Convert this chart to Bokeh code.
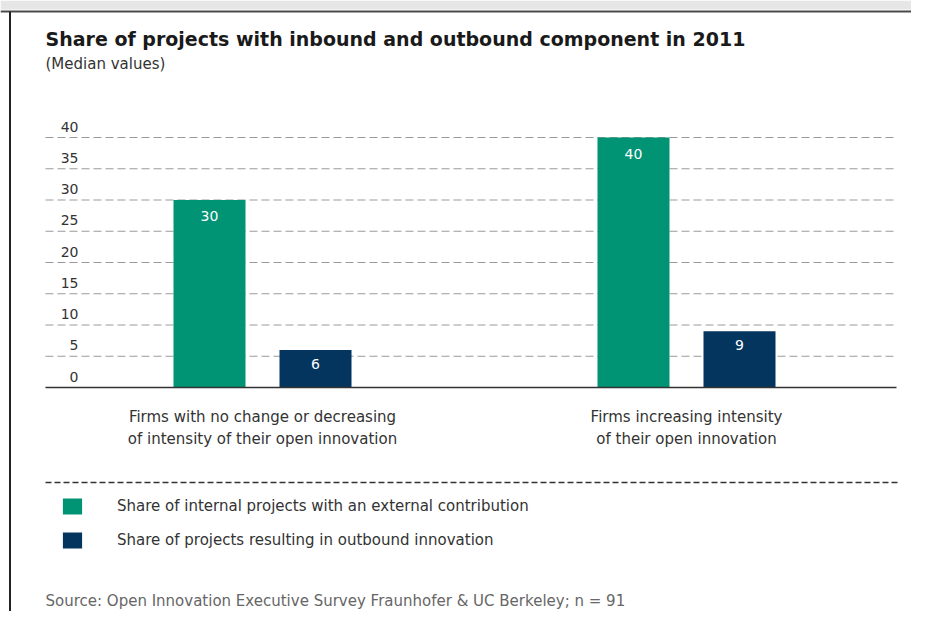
from bokeh.plotting import figure
from bokeh.models import Range1d, ColumnDataSource, Legend, LegendItem
from bokeh.transform import dodge
from bokeh.core.properties import value
from bokeh.embed import file_html
from bokeh.resources import INLINE

# ---------------- data ----------------
title = "Share of projects with inbound and outbound component in 2011"
subtitle = "(Median values)"
categories = [
    "Firms with no change or decreasing\nof intensity of their open innovation",
    "Firms increasing intensity\nof their open innovation",
]
series_names = [
    "Share of internal projects with an external contribution",
    "Share of projects resulting in outbound innovation",
]
inbound = [30, 40]
outbound = [6, 9]
y_ticks = [0, 5, 10, 15, 20, 25, 30, 35, 40]
source_note = "Source: Open Innovation Executive Survey Fraunhofer & UC Berkeley; n = 91"

GREEN = "#009474"
NAVY = "#03355f"
FONT_NAME = "DejaVu Sans"
FONT = value(FONT_NAME)

# ---------------- layout helpers (pixel -> data) ----------------
W, H = 911, 611
PX_X = 424.0   # pixels per category step
PX_Y = 6.25    # pixels per value unit


def fx(px):
    return 1 + (px - 262) / PX_X


def fy(py):
    return (387 - py) / PX_Y


p = figure(width=W, height=H, output_backend="svg", toolbar_location=None,
           x_range=Range1d(fx(0), fx(W)), y_range=Range1d(fy(H), fy(0)),
           x_axis_type=None, y_axis_type=None, min_border=0,
           outline_line_color=None, background_fill_color="white",
           border_fill_color="white")

pos = list(range(1, len(categories) + 1))
src = ColumnDataSource(dict(
    pos=pos,
    inbound=inbound,
    outbound=outbound,
    inbound_lbl=[str(v) for v in inbound],
    outbound_lbl=[str(v) for v in outbound],
))

# frame lines (top rule, left border)
p.quad(left=[fx(0)], right=[fx(W)], top=[fy(0)], bottom=[fy(9)], fill_color="#e6e6e6", line_color=None)
p.segment(x0=[fx(0)], x1=[fx(W)], y0=[fy(11)], y1=[fy(11)], line_color="#4a4a4a", line_width=2)
p.segment(x0=[fx(9.5)], x1=[fx(9.5)], y0=[fy(11)], y1=[fy(H)], line_color="#222222", line_width=2)

# gridlines
grid_ticks = [t for t in y_ticks if t > 0]
p.segment(x0=[fx(45)] * len(grid_ticks), x1=[fx(896)] * len(grid_ticks),
          y0=grid_ticks, y1=grid_ticks, line_color="#9a9a9a", line_width=1,
          line_dash="8 4")

# tick labels (sit above their gridline)
p.text(x=[fx(78)] * len(y_ticks), y=y_ticks, text=[str(t) for t in y_ticks],
       text_align="right", text_baseline="middle", y_offset=-11,
       text_font=FONT, text_font_size="14px", text_color="#333333")

# bars
off = 53 / PX_X
bw = 72 / PX_X
r1 = p.vbar(x=dodge("pos", -off, range=p.x_range), top="inbound", bottom=0, width=bw,
            source=src, fill_color=GREEN, line_color=None)
r2 = p.vbar(x=dodge("pos", off, range=p.x_range), top="outbound", bottom=0, width=bw,
            source=src, fill_color=NAVY, line_color=None)

p.text(x=dodge("pos", -off, range=p.x_range), y="inbound", text="inbound_lbl", source=src,
       text_align="center", text_baseline="middle", y_offset=16,
       text_font=FONT, text_font_size="14px", text_color="white")
p.text(x=dodge("pos", off, range=p.x_range), y="outbound", text="outbound_lbl", source=src,
       text_align="center", text_baseline="middle", y_offset=14,
       text_font=FONT, text_font_size="14px", text_color="white")

# baseline
p.segment(x0=[fx(45)], x1=[fx(896)], y0=[0], y1=[0], line_color="#333333", line_width=1.5)

# category labels (two lines each)
line1 = [c.split("\n")[0] for c in categories]
line2 = [c.split("\n")[1] for c in categories]
p.text(x=pos, y=[fy(416)] * len(pos), text=line1, text_align="center",
       text_baseline="middle", text_font=FONT, text_font_size="15px",
       text_color="#333333")
p.text(x=pos, y=[fy(438)] * len(pos), text=line2, text_align="center",
       text_baseline="middle", text_font=FONT, text_font_size="15px",
       text_color="#333333")

# separator
p.segment(x0=[fx(45)], x1=[fx(897)], y0=[fy(482)], y1=[fy(482)], line_color="#333333",
          line_width=1.5, line_dash="6 3")

# title & subtitle
p.text(x=[fx(45)], y=[fy(38)], text=[title], text_align="left", text_baseline="middle",
       text_font=FONT, text_font_style="bold", text_font_size="19px", text_color="#1a1a1a")
p.text(x=[fx(45)], y=[fy(63)], text=[subtitle], text_align="left", text_baseline="middle",
       text_font=FONT, text_font_size="15px", text_color="#333333")

# source
p.text(x=[fx(45)], y=[fy(600)], text=[source_note], text_align="left", text_baseline="middle",
       text_font=FONT, text_font_size="15px", text_color="#666666")

# legend
legend = Legend(items=[LegendItem(label=series_names[0], renderers=[r1]),
                       LegendItem(label=series_names[1], renderers=[r2])],
                location=(60, 61), orientation="vertical",
                glyph_width=24, glyph_height=20, label_height=20, spacing=14,
                padding=0, margin=0, label_standoff=33,
                label_text_font=FONT_NAME, label_text_font_size="15px",
                label_text_color="#333333", border_line_color=None,
                background_fill_alpha=0)
p.add_layout(legend)

open("out.html", "w").write(file_html(p, INLINE))
